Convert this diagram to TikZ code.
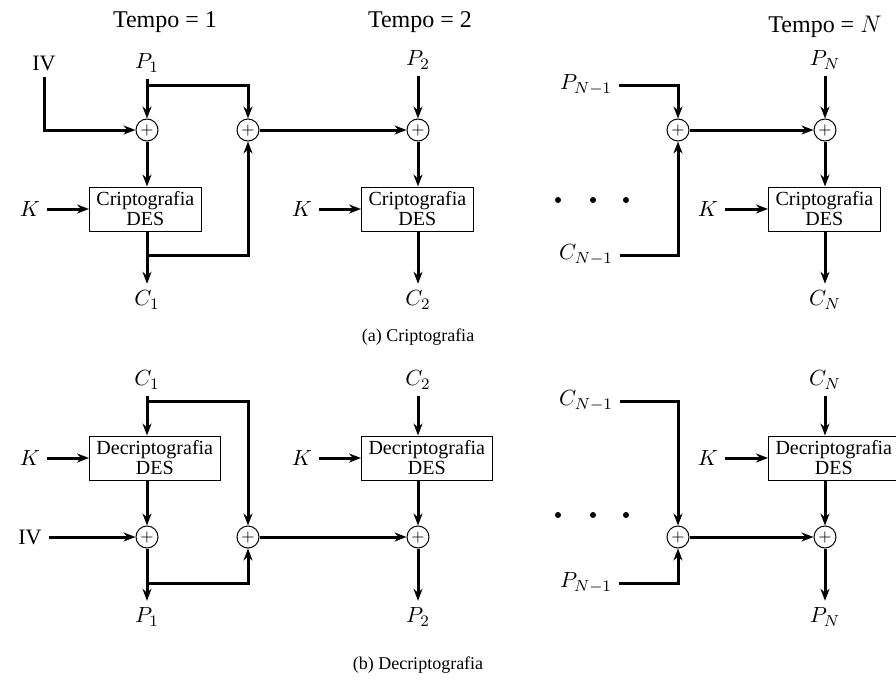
\documentclass[tikz,border=0pt]{standalone}
\usepackage{fontspec}
\setmainfont{Liberation Serif}
\usetikzlibrary{arrows.meta}

\begin{document}
\begin{tikzpicture}[x=0.5pt,y=-0.5pt,
  >={Stealth[length=6pt,width=4.5pt]},
  block/.style={rectangle,draw=black,line width=0.5pt,anchor=west,align=center,
    inner xsep=3.5pt,inner ysep=1pt,minimum height=22pt,font=\fontsize{10}{10}\selectfont},
  xor/.style={circle,draw=black,line width=0.5pt,minimum size=11pt,inner sep=0pt,font=\fontsize{8}{8}\selectfont},
  lbl/.style={font=\fontsize{11}{13}\selectfont},
  flow/.style={line width=1.5pt}]
\useasboundingbox (0,0) rectangle (896,686);

\node at (165, 22) (t1) [font=\fontsize{12}{14}\selectfont] {Tempo = 1};
\node at (420, 22) (t2) [font=\fontsize{12}{14}\selectfont] {Tempo = 2};
\node at (825, 27) (tn) [font=\fontsize{12}{14}\selectfont] {Tempo = $N$};

\node at ( 44, 63) (iva) [lbl] {IV};
\node at (147, 63) (p1a) [lbl] {$P_1$};
\node at (418, 60) (p2a) [lbl] {$P_2$};
\node at (825, 60) (pna) [lbl] {$P_N$};
\node at (586, 85) (pm1a) [lbl] {$P_{N-1}$};
\node at (586,255) (cm1a) [lbl] {$C_{N-1}$};
\node at (147, 130) (x1a) [xor] {$+$};
\node at (248, 130) (x2a) [xor] {$+$};
\node at (418, 130) (x3a) [xor] {$+$};
\node at (678, 130) (x4a) [xor] {$+$};
\node at (825, 130) (x5a) [xor] {$+$};
\node at ( 89, 209) (e1) [block] {Criptografia\\DES};
\node at (361, 209) (e2) [block] {Criptografia\\DES};
\node at (768, 209) (en) [block] {Criptografia\\DES};
\node at ( 30, 209) (k1a) [lbl] {$K$};
\node at (302, 209) (k2a) [lbl] {$K$};
\node at (708, 209) (kna) [lbl] {$K$};
\node at (147, 300) (c1a) [lbl] {$C_1$};
\node at (418, 300) (c2a) [lbl] {$C_2$};
\node at (825, 300) (cna) [lbl] {$C_N$};
\coordinate (s1) at (147, 85);
\coordinate (s2) at (147,255);
\node at (418,337) (capa) [font=\fontsize{9}{11}\selectfont] {(a) Criptografia};

\draw [flow,->] (iva) |- (x1a);
\draw [flow,->] (p1a) -- (x1a);
\draw [flow,->] (s1) -| (x2a);
\draw [flow,->] (x1a) -- (x1a |- e1.north);
\draw [flow,->] (k1a) -- (e1);
\draw [flow,->] (x1a |- e1.south) -- (c1a);
\draw [flow,->] (s2) -| (x2a);
\draw [flow,->] (x2a) -- (x3a);
\draw [flow,->] (p2a) -- (x3a);
\draw [flow,->] (x3a) -- (x3a |- e2.north);
\draw [flow,->] (k2a) -- (e2);
\draw [flow,->] (x3a |- e2.south) -- (c2a);
\draw [flow,->] (pm1a) -| (x4a);
\draw [flow,->] (cm1a) -| (x4a);
\draw [flow,->] (x4a) -- (x5a);
\draw [flow,->] (pna) -- (x5a);
\draw [flow,->] (x5a) -- (x5a |- en.north);
\draw [flow,->] (kna) -- (en);
\draw [flow,->] (x5a |- en.south) -- (cna);
\foreach \x in {558,593,626} \fill (\x,200) circle (1.5pt);

\node at (147,380) (c1b) [lbl] {$C_1$};
\node at (418,380) (c2b) [lbl] {$C_2$};
\node at (825,380) (cnb) [lbl] {$C_N$};
\node at (586,401) (cm1b) [lbl] {$C_{N-1}$};
\node at (586,583) (pm1b) [lbl] {$P_{N-1}$};
\node at ( 89, 458) (d1) [block] {Decriptografia\\DES};
\node at (361, 458) (d2) [block] {Decriptografia\\DES};
\node at (768, 458) (dn) [block] {Decriptografia\\DES};
\node at ( 30, 458) (k1b) [lbl] {$K$};
\node at (302, 458) (k2b) [lbl] {$K$};
\node at (708, 458) (knb) [lbl] {$K$};
\node at ( 30, 537) (ivb) [lbl] {IV};
\node at (147, 537) (x1b) [xor] {$+$};
\node at (248, 537) (x2b) [xor] {$+$};
\node at (418, 537) (x3b) [xor] {$+$};
\node at (678, 537) (x4b) [xor] {$+$};
\node at (825, 537) (x5b) [xor] {$+$};
\node at (147,617) (p1b) [lbl] {$P_1$};
\node at (418,617) (p2b) [lbl] {$P_2$};
\node at (825,617) (pnb) [lbl] {$P_N$};
\coordinate (s3) at (147,401);
\coordinate (s4) at (147,583);
\node at (418,665) (capb) [font=\fontsize{9}{11}\selectfont] {(b) Decriptografia};

\draw [flow,->] (c1b) -- (c1b |- d1.north);
\draw [flow,->] (s3) -| (x2b);
\draw [flow,->] (k1b) -- (d1);
\draw [flow,->] (x1b |- d1.south) -- (x1b);
\draw [flow,->] (ivb) -- (x1b);
\draw [flow,->] (x1b) -- (p1b);
\draw [flow,->] (s4) -| (x2b);
\draw [flow,->] (x2b) -- (x3b);
\draw [flow,->] (c2b) -- (c2b |- d2.north);
\draw [flow,->] (k2b) -- (d2);
\draw [flow,->] (x3b |- d2.south) -- (x3b);
\draw [flow,->] (x3b) -- (p2b);
\draw [flow,->] (cm1b) -| (x4b);
\draw [flow,->] (pm1b) -| (x4b);
\draw [flow,->] (x4b) -- (x5b);
\draw [flow,->] (cnb) -- (cnb |- dn.north);
\draw [flow,->] (knb) -- (dn);
\draw [flow,->] (x5b |- dn.south) -- (x5b);
\draw [flow,->] (x5b) -- (pnb);
\foreach \x in {558,593,626} \fill (\x,515) circle (1.5pt);
\end{tikzpicture}
\end{document}
